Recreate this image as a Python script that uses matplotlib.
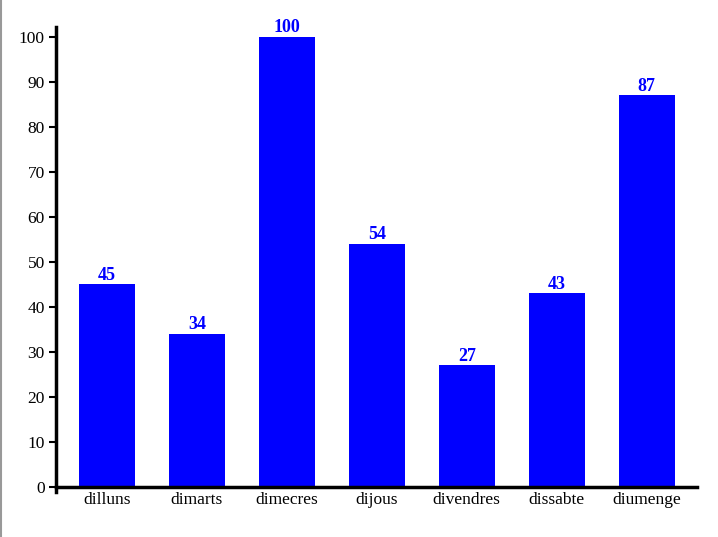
import matplotlib.pyplot as plt
from matplotlib.lines import Line2D

days = ['dilluns', 'dimarts', 'dimecres', 'dijous', 'divendres', 'dissabte', 'diumenge']
values = [45, 34, 100, 54, 27, 43, 87]
yticks = [0, 10, 20, 30, 40, 50, 60, 70, 80, 90, 100]

plt.rcParams['font.family'] = ['Liberation Serif', 'DejaVu Serif']

fig = plt.figure(figsize=(7.18, 5.37), dpi=100)
ax = fig.add_axes([56 / 718, 1 - 487 / 537, (697 - 56) / 718, (487 - 27) / 537])

x = list(range(len(days)))
ax.bar(x, values, width=0.62, color='#0000ff')
for xi, v in zip(x, values):
    ax.text(xi, v + 0.2, str(v), ha='center', va='bottom', color='#0000ff',
            fontsize=13, fontweight='bold')

ax.set_xlim(-0.567, 6.56)
ax.set_ylim(0, 102.2)
ax.set_yticks(yticks)
ax.set_xticks(x)
ax.set_xticklabels(days)

for s in ['top', 'right']:
    ax.spines[s].set_visible(False)
ax.spines['left'].set_linewidth(2.5)
ax.spines['bottom'].set_linewidth(2.5)
ax.spines['left'].set_bounds(-1, 102.2)
ax.tick_params(axis='y', length=5, width=1.5, labelsize=12.5, pad=3)
ax.tick_params(axis='x', length=0, labelsize=12.5, pad=3.5)

fig.add_artist(Line2D([0.001, 0.001], [0, 1], color='#999999', lw=1.5))

fig.savefig('out.png', dpi=100)
